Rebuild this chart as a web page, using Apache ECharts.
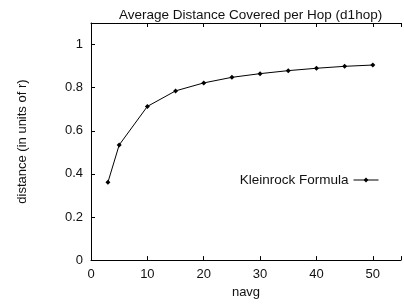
<!DOCTYPE html>
<html><head><meta charset="utf-8">
<script src="https://cdn.jsdelivr.net/npm/echarts@6/dist/echarts.min.js"></script>
<style>html,body{margin:0;padding:0;background:#fff}#c{width:404px;height:304px}</style>
</head><body><div id="c"></div>
<script>
var navg = [3, 5, 10, 15, 20, 25, 30, 35, 40, 45, 50];
var distance = [0.361, 0.534, 0.713, 0.785, 0.822, 0.848, 0.865, 0.879, 0.89, 0.899, 0.905];
var xTicks = [0, 10, 20, 30, 40, 50];
var yTicks = [0, 0.2, 0.4, 0.6, 0.8, 1];
var seriesName = 'Kleinrock Formula';

var font = 'Liberation Sans, Arial, sans-serif';
var chart = echarts.init(document.getElementById('c'));
chart.setOption({
  animation: false,
  title: {text: 'Average Distance Covered per Hop (d1hop)', left: 114, top: 3,
    textStyle: {fontFamily: font, fontSize: 13.5, fontWeight: 'normal', color: '#111'}},
  legend: {data: [seriesName], right: 20, top: 168, align: 'right', itemWidth: 25, itemHeight: 6, itemGap: 8,
    lineStyle: {width: 1},
    textStyle: {fontFamily: font, fontSize: 13.5, color: '#111'}},
  grid: {left: 91, top: 23, width: 318, bottom: 42, containLabel: false},
  xAxis: [{
    type: 'value', min: 0, max: 55, interval: 10,
    name: 'navg', nameLocation: 'middle', nameGap: 24,
    nameTextStyle: {fontFamily: font, fontSize: 13, color: '#111'},
    axisLine: {lineStyle: {color: '#000', width: 1}},
    axisTick: {inside: true, length: 4, lineStyle: {color: '#000'}},
    axisLabel: {fontFamily: font, fontSize: 13, color: '#111', margin: 8,
      formatter: function(v){ return xTicks.indexOf(v) >= 0 ? String(v) : ''; }},
    splitLine: {show: false}
  }, {
    type: 'value', min: 0, max: 55, interval: 10, position: 'top',
    axisLine: {show: true, lineStyle: {color: '#000', width: 1}},
    axisTick: {inside: true, length: 4, lineStyle: {color: '#000'}},
    axisLabel: {show: false}, splitLine: {show: false}
  }],
  yAxis: {
    type: 'value', min: 0, max: 1.1, interval: 0.2,
    name: 'distance (in units of r)', nameLocation: 'middle', nameGap: 62,
    nameTextStyle: {fontFamily: font, fontSize: 13, color: '#111'},
    axisLine: {show: true, lineStyle: {color: '#000', width: 1}},
    axisTick: {inside: true, length: 4, lineStyle: {color: '#000'}},
    axisLabel: {fontFamily: font, fontSize: 13, color: '#111', margin: 8,
      formatter: function(v){ var r = Math.round(v*10)/10; return yTicks.indexOf(r) >= 0 ? String(r) : ''; }},
    splitLine: {show: false}
  },
  series: [{
    name: seriesName, type: 'line',
    data: navg.map(function(x, i){ return [x, distance[i]]; }),
    symbol: 'diamond', symbolSize: 5,
    itemStyle: {color: '#000'},
    lineStyle: {color: '#000', width: 1}
  }]
});
</script></body></html>
